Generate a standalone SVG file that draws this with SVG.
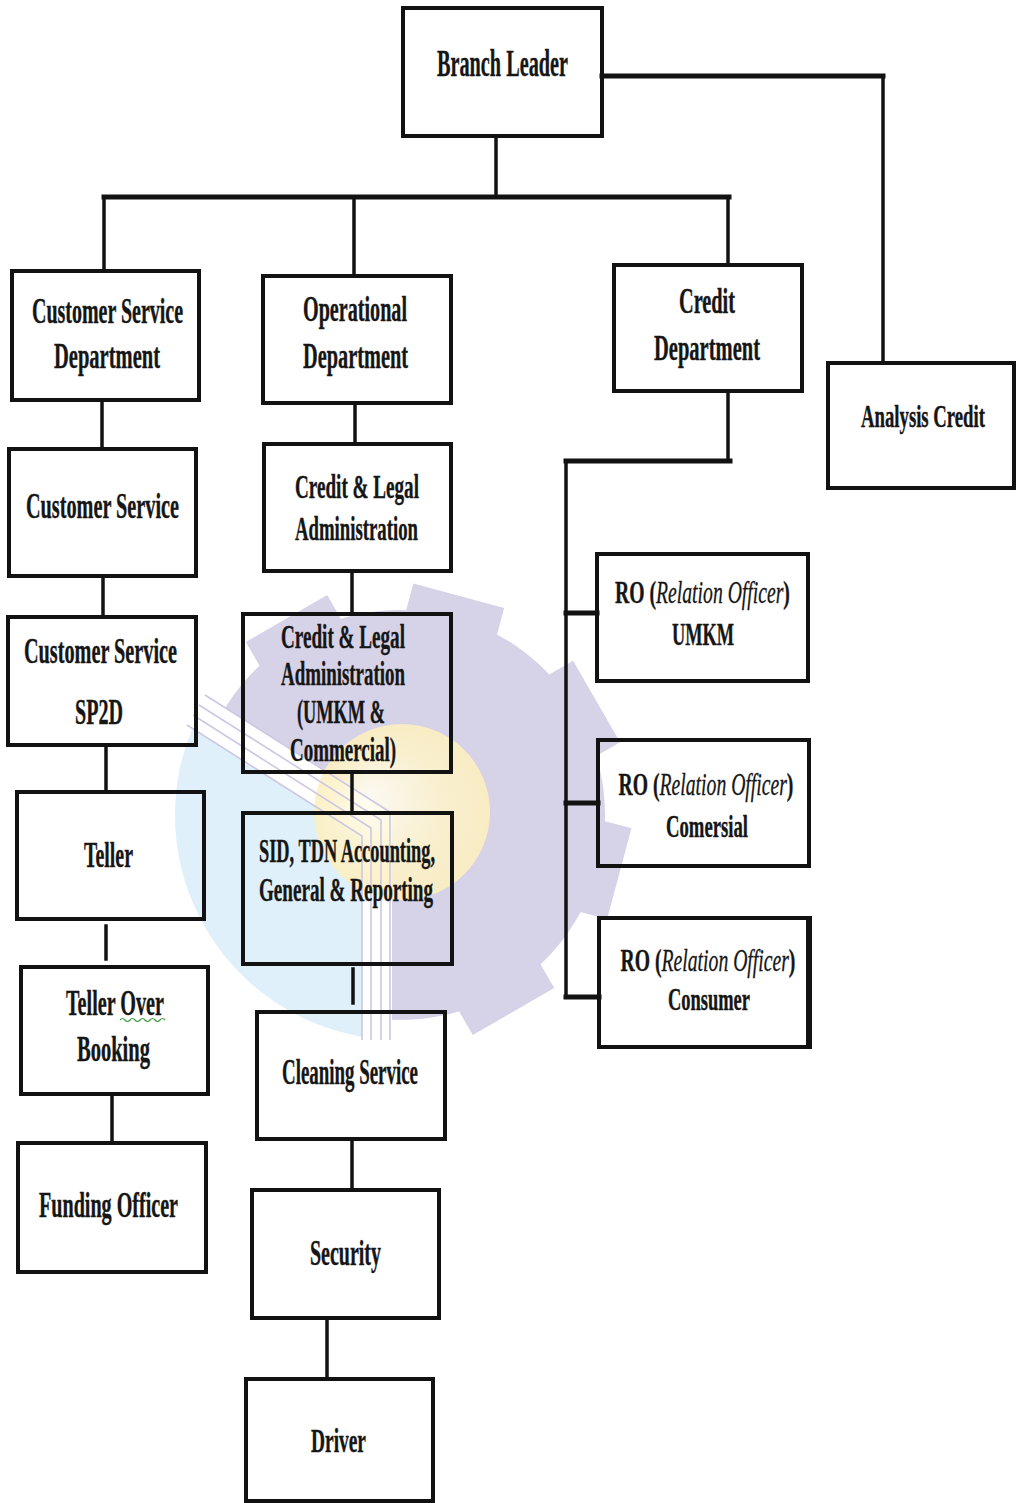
<svg xmlns="http://www.w3.org/2000/svg" width="1016" height="1503" viewBox="0 0 1016 1503">
<defs>
<style>
.box{fill:none;stroke:#121212;stroke-width:4}
.ln{stroke:#121212;stroke-width:3.5;fill:none;stroke-linecap:square}
.hl{stroke:#121212;stroke-width:5;fill:none;stroke-linecap:square}
.t{font-family:"Liberation Serif","Times New Roman",serif;font-weight:bold;fill:#161616;stroke:#161616;stroke-width:0.4}
.c{text-anchor:middle}
.i{font-style:italic;font-weight:normal;stroke-width:0.3}
.stripe{fill:none;stroke:#cdc8e2;stroke-width:1.6}
</style>
<clipPath id="blueClip"><polygon points="100,670 362,836 362,1100 100,1100"/></clipPath>
<radialGradient id="yg" cx="0.5" cy="0.5" r="0.5" fx="0.3" fy="0.4">
<stop offset="0" stop-color="#fffdf4"/>
<stop offset="0.6" stop-color="#fdf3cd"/>
<stop offset="1" stop-color="#fcefc0"/>
</radialGradient>
</defs>
<rect width="1016" height="1503" fill="#ffffff"/>

<g id="watermark">
<g transform="translate(400,815)" fill="#d6d2e7">
<circle r="205"/>
<rect x="190" y="-47" width="37" height="94" transform="rotate(-120)"/>
<rect x="190" y="-47" width="37" height="94" transform="rotate(-75)"/>
<rect x="190" y="-47" width="37" height="94" transform="rotate(-30)"/>
<rect x="190" y="-47" width="37" height="94" transform="rotate(15)"/>
<rect x="190" y="-47" width="37" height="94" transform="rotate(60)"/>
</g>
<circle cx="400" cy="815" r="225" fill="#dff0fa" clip-path="url(#blueClip)"/>
<polygon points="205,695 392,812 392,1040 362,1040 362,836 187,725" fill="#ffffff"/>
<circle cx="402" cy="812" r="88" fill="url(#yg)" opacity="0.9"/>
<polyline class="stripe" points="205,695 390,812 390,1040"/>
<polyline class="stripe" points="199,705 381,820 381,1040"/>
<polyline class="stripe" points="193,715 371,828 371,1040"/>
<polyline class="stripe" points="187,725 362,836 362,1040"/>
</g>

<g id="connectors">
<line class="hl" x1="602" y1="76" x2="883" y2="76"/>
<line class="ln" x1="883" y1="76" x2="883" y2="362"/>
<line class="ln" x1="496" y1="137" x2="496" y2="197"/>
<line class="hl" x1="104" y1="197" x2="729" y2="197"/>
<line class="ln" x1="104" y1="197" x2="104" y2="271"/>
<line class="ln" x1="354" y1="197" x2="354" y2="276"/>
<line class="ln" x1="728" y1="197" x2="728" y2="265"/>
<line class="ln" x1="102" y1="400" x2="102" y2="449"/>
<line class="ln" x1="103" y1="576" x2="103" y2="617"/>
<line class="ln" x1="106" y1="745" x2="106" y2="792"/>
<line class="ln" x1="106" y1="926" x2="106" y2="959"/>
<line class="ln" x1="112" y1="1094" x2="112" y2="1143"/>
<line class="ln" x1="355" y1="403" x2="355" y2="444"/>
<line class="ln" x1="352" y1="571" x2="352" y2="614"/>
<line class="ln" x1="352" y1="772" x2="352" y2="813"/>
<line class="ln" x1="353" y1="969" x2="353" y2="1003"/>
<line class="ln" x1="352" y1="1139" x2="352" y2="1190"/>
<line class="ln" x1="327" y1="1318" x2="327" y2="1379"/>
<line class="ln" x1="728" y1="391" x2="728" y2="461"/>
<line class="hl" x1="566" y1="461" x2="730" y2="461"/>
<line class="ln" x1="566" y1="461" x2="566" y2="997"/>
<line class="hl" x1="566" y1="613" x2="597" y2="613"/>
<line class="hl" x1="566" y1="803" x2="598" y2="803"/>
<line class="hl" x1="566" y1="997" x2="599" y2="997"/>
</g>

<g id="branch-leader">
<rect class="box" x="403" y="8" width="199" height="128"/>
<text class="t" x="437" y="76" font-size="38" textLength="131" lengthAdjust="spacingAndGlyphs">Branch Leader</text>
</g>

<g id="cs-department">
<rect class="box" x="12" y="271" width="187" height="129"/>
<text class="t" x="32" y="323" font-size="36" textLength="151" lengthAdjust="spacingAndGlyphs">Customer Service</text>
<text class="t" x="54" y="368" font-size="36" textLength="106" lengthAdjust="spacingAndGlyphs">Department</text>
</g>

<g id="operational-department">
<rect class="box" x="263" y="276" width="188" height="127"/>
<text class="t" x="303" y="321" font-size="36" textLength="104" lengthAdjust="spacingAndGlyphs">Operational</text>
<text class="t" x="303" y="368" font-size="36" textLength="105" lengthAdjust="spacingAndGlyphs">Department</text>
</g>

<g id="credit-department">
<rect class="box" x="614" y="265" width="188" height="126"/>
<text class="t" x="679" y="313" font-size="35" textLength="56" lengthAdjust="spacingAndGlyphs">Credit</text>
<text class="t" x="654" y="360" font-size="35" textLength="106" lengthAdjust="spacingAndGlyphs">Department</text>
</g>

<g id="analysis-credit">
<rect class="box" x="828" y="363" width="186" height="125"/>
<text class="t c" transform="translate(923,427) scale(0.585,1)" font-size="32">Analysis Credit</text>
</g>

<g id="customer-service">
<rect class="box" x="9" y="449" width="187" height="127"/>
<text class="t" x="26" y="518" font-size="36" textLength="153" lengthAdjust="spacingAndGlyphs">Customer Service</text>
</g>

<g id="credit-legal-admin">
<rect class="box" x="264" y="444" width="187" height="127"/>
<text class="t" x="295" y="498" font-size="34" textLength="124" lengthAdjust="spacingAndGlyphs">Credit &amp; Legal</text>
<text class="t" x="295" y="540" font-size="34" textLength="123" lengthAdjust="spacingAndGlyphs">Administration</text>
</g>

<g id="cs-sp2d">
<rect class="box" x="8" y="617" width="188" height="128"/>
<text class="t" x="24" y="663" font-size="36" textLength="153" lengthAdjust="spacingAndGlyphs">Customer Service</text>
<text class="t" x="75" y="724" font-size="36" textLength="48" lengthAdjust="spacingAndGlyphs">SP2D</text>
</g>

<g id="teller">
<rect class="box" x="17" y="792" width="187" height="127"/>
<text class="t" x="84" y="867" font-size="36" textLength="49" lengthAdjust="spacingAndGlyphs">Teller</text>
</g>

<g id="teller-over-booking">
<rect class="box" x="21" y="967" width="187" height="127"/>
<text class="t" x="66" y="1015" font-size="36" textLength="98" lengthAdjust="spacingAndGlyphs">Teller Over</text>
<path d="M120,1020 q2.5,-3 5,0 t5,0 t5,0 t5,0 t5,0 t5,0 t5,0 t5,0 t5,0" fill="none" stroke="#3a9a3a" stroke-width="1.2"/>
<text class="t" x="77" y="1061" font-size="36" textLength="73" lengthAdjust="spacingAndGlyphs">Booking</text>
</g>

<g id="funding-officer">
<rect class="box" x="18" y="1143" width="188" height="129"/>
<text class="t" x="39" y="1217" font-size="36" textLength="139" lengthAdjust="spacingAndGlyphs">Funding Officer</text>
</g>

<g id="credit-legal-umkm">
<rect class="box" x="243" y="614" width="208" height="158"/>
<text class="t" x="281" y="648" font-size="33" textLength="124" lengthAdjust="spacingAndGlyphs">Credit &amp; Legal</text>
<text class="t" x="281" y="685" font-size="33" textLength="124" lengthAdjust="spacingAndGlyphs">Administration</text>
<text class="t" x="297" y="723" font-size="33" textLength="88" lengthAdjust="spacingAndGlyphs">(UMKM &amp;</text>
<text class="t" x="290" y="761" font-size="33" textLength="106" lengthAdjust="spacingAndGlyphs">Commercial)</text>
</g>

<g id="sid-tdn">
<rect class="box" x="243" y="813" width="209" height="151"/>
<text class="t" x="259" y="862" font-size="33" textLength="176" lengthAdjust="spacingAndGlyphs">SID, TDN Accounting,</text>
<text class="t" x="259" y="901" font-size="33" textLength="174" lengthAdjust="spacingAndGlyphs">General &amp; Reporting</text>
</g>

<g id="cleaning-service">
<rect class="box" x="257" y="1012" width="188" height="127"/>
<text class="t" x="282" y="1084" font-size="35" textLength="136" lengthAdjust="spacingAndGlyphs">Cleaning Service</text>
</g>

<g id="security">
<rect class="box" x="252" y="1190" width="187" height="128"/>
<text class="t" x="310" y="1265" font-size="36" textLength="71" lengthAdjust="spacingAndGlyphs">Security</text>
</g>

<g id="driver">
<rect class="box" x="246" y="1379" width="187" height="122"/>
<text class="t" x="311" y="1452" font-size="34" textLength="55" lengthAdjust="spacingAndGlyphs">Driver</text>
</g>

<g id="ro-umkm">
<rect class="box" x="597" y="554" width="211" height="127"/>
<text class="t c" transform="translate(702.5,603) scale(0.615,1)" font-size="32">RO (<tspan class="i">Relation Officer</tspan>)</text>
<text class="t" x="672" y="645" font-size="32" textLength="62" lengthAdjust="spacingAndGlyphs">UMKM</text>
</g>

<g id="ro-comersial">
<rect class="box" x="598" y="740" width="211" height="126"/>
<text class="t c" transform="translate(706,795) scale(0.615,1)" font-size="32">RO (<tspan class="i">Relation Officer</tspan>)</text>
<text class="t" x="666" y="837" font-size="32" textLength="82" lengthAdjust="spacingAndGlyphs">Comersial</text>
</g>

<g id="ro-consumer">
<rect class="box" x="599" y="918" width="211" height="129"/>
<line x1="809" y1="918" x2="809" y2="1047" stroke="#121212" stroke-width="6"/>
<text class="t c" transform="translate(708,971) scale(0.615,1)" font-size="32">RO (<tspan class="i">Relation Officer</tspan>)</text>
<text class="t" x="668" y="1010" font-size="32" textLength="82" lengthAdjust="spacingAndGlyphs">Consumer</text>
</g>
</svg>
